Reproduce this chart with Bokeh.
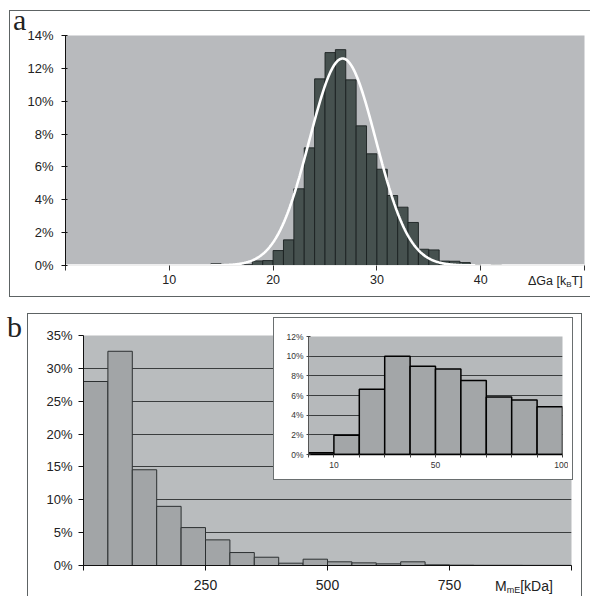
import numpy as np
from bokeh.plotting import figure
from bokeh.models import Range1d, FixedTicker, ColumnDataSource, Div
from bokeh.layouts import column
from bokeh.embed import file_html
from bokeh.resources import INLINE

# ---------------- Panel a : activation free energy histogram ----------------
dg_bin_left = [14, 15, 16, 17, 18, 19, 20, 21, 22, 23, 24, 25, 26, 27,
               28, 29, 30, 31, 32, 33, 34, 35, 36, 37, 38, 39, 40, 41]
dg_pct = [0.10, 0.0, 0.0, 0.05, 0.28, 0.30, 0.91, 1.56, 4.67, 7.16, 11.36, 12.96, 13.14, 11.30,
          8.50, 6.80, 5.86, 4.26, 3.55, 2.62, 0.99, 0.95, 0.27, 0.26, 0.18, 0.06, 0.0, 0.05]
dg_bin_width = 1
# Gaussian fit drawn over the histogram (parameters)
fit_mean = 26.7
fit_sd = 3.2
fit_peak = 12.6
dg_yticks = [0, 2, 4, 6, 8, 10, 12, 14]
dg_xticks = [0, 10, 20, 30, 40, 50]
dg_xtick_labels = ["", "10", "20", "30", "40", ""]

# ---------------- Panel b : mass histogram ----------------
m_bin_left = [0, 50, 100, 150, 200, 250, 300, 350, 400, 450,
              500, 550, 600, 650, 700, 750, 800, 850, 900, 950]
m_pct = [28.0, 32.6, 14.57, 9.0, 5.77, 3.9, 1.97, 1.26, 0.35, 0.96,
         0.56, 0.40, 0.25, 0.56, 0.10, 0.05, 0.03, 0.03, 0.02, 0.02]
m_bin_width = 50
m_yticks = [0, 5, 10, 15, 20, 25, 30, 35]
m_grid = [5, 10, 15, 20, 25, 30]
m_xticks = [0, 250, 500, 750, 1000]
m_xtick_labels = ["", "250", "500", "750", ""]

# ---------------- Inset : 0-100 kDa ----------------
s_bin_left = [0, 10, 20, 30, 40, 50, 60, 70, 80, 90]
s_pct = [0.17, 1.95, 6.64, 9.98, 8.97, 8.70, 7.52, 5.86, 5.53, 4.85]
s_bin_width = 10
s_yticks = [0, 2, 4, 6, 8, 10, 12]
s_grid = [2, 4, 6, 8, 10]
s_xticks = [0, 10, 20, 30, 40, 50, 60, 70, 80, 90, 100]
s_xtick_labels = ["", "10", "", "", "", "50", "", "", "", "", "100"]

SANS = "Liberation Sans"
SERIF = "Liberation Serif"
BOX_COLOR = "#5d6364"
INK = "#222222"

# ======================= Panel a =======================
pa = figure(width=580, height=285, x_range=Range1d(0, 50), y_range=Range1d(0, 14),
            output_backend="svg", toolbar_location=None,
            min_border_left=55, min_border_right=6, min_border_top=24, min_border_bottom=31,
            background_fill_color="#b8babd", border_fill_alpha=0, outline_line_color=None,
            margin=(11, 0, 0, 10))
pa.xgrid.visible = False
pa.ygrid.visible = False

src_a = ColumnDataSource(dict(left=dg_bin_left,
                              right=[v + dg_bin_width for v in dg_bin_left],
                              top=dg_pct))
pa.quad(left="left", right="right", top="top", bottom=0, source=src_a,
        fill_color="#46514f", line_color="#1b2121", line_width=0.9)

xs = np.linspace(0, 50, 801)
ys = fit_peak * np.exp(-0.5 * ((xs - fit_mean) / fit_sd) ** 2)
pa.line(xs, ys, line_color="white", line_width=2.6)

pa.yaxis.ticker = FixedTicker(ticks=dg_yticks)
pa.yaxis.major_label_overrides = {t: f"{t}%" for t in dg_yticks}
pa.xaxis.ticker = FixedTicker(ticks=dg_xticks)
pa.xaxis.major_label_overrides = dict(zip(dg_xticks, dg_xtick_labels))
for ax in (pa.xaxis[0], pa.yaxis[0]):
    ax.minor_tick_line_color = None
    ax.major_label_text_font = SANS
    ax.major_label_text_color = INK
pa.yaxis.major_label_text_font_size = "13px"
pa.xaxis.major_label_text_font_size = "12.5px"
pa.yaxis.axis_line_color = "#111111"
pa.yaxis.major_tick_line_color = "#111111"
pa.yaxis.major_tick_out = 4
pa.yaxis.major_tick_in = 2
pa.yaxis.major_label_standoff = 8
pa.xaxis.axis_line_color = "#eeeeee"
pa.xaxis.major_tick_line_color = "#333333"
pa.xaxis.major_tick_out = 5
pa.xaxis.major_tick_in = 0
pa.xaxis.major_label_standoff = 4

# ======================= Panel b =======================
pb = figure(width=549, height=282, x_range=Range1d(0, 1000), y_range=Range1d(0, 35),
            output_backend="svg", toolbar_location=None,
            min_border_left=55, min_border_right=6, min_border_top=21, min_border_bottom=31,
            background_fill_color="#b9bcbe", border_fill_alpha=0, outline_line_color=None,
            margin=(18, 0, 0, 28))
pb.xgrid.visible = False
pb.ygrid.ticker = FixedTicker(ticks=m_grid)
pb.ygrid.grid_line_color = "#3a3d3e"
pb.ygrid.grid_line_width = 1

src_b = ColumnDataSource(dict(left=m_bin_left,
                              right=[v + m_bin_width for v in m_bin_left],
                              top=m_pct))
pb.quad(left="left", right="right", top="top", bottom=0, source=src_b,
        fill_color="#a2a5a7", line_color="#2c3031", line_width=1)

pb.yaxis.ticker = FixedTicker(ticks=m_yticks)
pb.yaxis.major_label_overrides = {t: f"{t}%" for t in m_yticks}
pb.xaxis.ticker = FixedTicker(ticks=m_xticks)
pb.xaxis.major_label_overrides = dict(zip(m_xticks, m_xtick_labels))
for ax in (pb.xaxis[0], pb.yaxis[0]):
    ax.minor_tick_line_color = None
    ax.major_label_text_font = SANS
    ax.major_label_text_color = INK
    ax.axis_line_color = "#111111"
    ax.major_tick_line_color = "#111111"
pb.yaxis.major_label_text_font_size = "13px"
pb.xaxis.major_label_text_font_size = "14px"
pb.yaxis.major_tick_out = 5
pb.yaxis.major_tick_in = 0
pb.yaxis.major_label_standoff = 6
pb.xaxis.major_tick_out = 5
pb.xaxis.major_tick_in = 0
pb.xaxis.major_label_standoff = 9

# ======================= Inset =======================
pi = figure(width=315, height=161, x_range=Range1d(0, 100), y_range=Range1d(0, 12),
            output_backend="svg", toolbar_location=None,
            min_border_left=55, min_border_right=6, min_border_top=18, min_border_bottom=25,
            background_fill_color="#b6b9bb", border_fill_alpha=0, outline_line_color=None,
            margin=(-278, 0, 0, 253),
            styles={"position": "relative", "z-index": "2"})
pi.xgrid.visible = False
pi.ygrid.ticker = FixedTicker(ticks=s_grid)
pi.ygrid.grid_line_color = "#3a3d3e"
pi.ygrid.grid_line_width = 1

src_i = ColumnDataSource(dict(left=s_bin_left,
                              right=[v + s_bin_width for v in s_bin_left],
                              top=s_pct))
pi.quad(left="left", right="right", top="top", bottom=0, source=src_i,
        fill_color="#a3a6a8", line_color="#000000", line_width=1.5)

pi.yaxis.ticker = FixedTicker(ticks=s_yticks)
pi.yaxis.major_label_overrides = {t: f"{t}%" for t in s_yticks}
pi.xaxis.ticker = FixedTicker(ticks=s_xticks)
pi.xaxis.major_label_overrides = dict(zip(s_xticks, s_xtick_labels))
for ax in (pi.xaxis[0], pi.yaxis[0]):
    ax.minor_tick_line_color = None
    ax.major_label_text_font = SANS
    ax.major_label_text_color = "#333333"
    ax.major_label_text_font_size = "8.5px"
    ax.major_tick_line_color = "#444444"
pi.xaxis.axis_line_color = "#000000"
pi.xaxis.axis_line_width = 1.5
pi.yaxis.axis_line_color = "#555555"
pi.yaxis.major_tick_out = 2
pi.yaxis.major_tick_in = 2
pi.yaxis.major_label_standoff = 3
pi.xaxis.major_tick_out = 3
pi.xaxis.major_tick_in = 0
pi.xaxis.major_label_standoff = 4


# ======================= Frames and text overlays =======================
def rule(left, top, w, h, color=BOX_COLOR, z=3):
    return Div(text="", width=w, height=h, margin=0,
               styles={"position": "absolute", "left": f"{left}px", "top": f"{top}px",
                       "width": f"{w}px", "height": f"{h}px",
                       "background": color, "z-index": str(z)})


def overlay(html, left, top, w, h, font, size):
    return Div(text=html, width=w, height=h, margin=0,
               styles={"position": "absolute", "left": f"{left}px", "top": f"{top}px",
                       "font-family": font, "font-size": size, "line-height": "1",
                       "color": INK, "z-index": "3", "white-space": "nowrap"})


# inset white card with its own border
box_i = Div(text="", width=300, height=163, margin=0,
            styles={"position": "absolute", "left": "273px", "top": "317px",
                    "box-sizing": "border-box", "border": "1px solid #6a6f70",
                    "background": "white", "z-index": "1"})

frame_lines = [
    # panel a box (right side runs off the page)
    rule(9, 10, 581, 1), rule(9, 10, 1, 287), rule(9, 296, 581, 1),
    # panel b box (bottom runs off the page)
    rule(27, 313, 555, 1), rule(27, 313, 1, 283), rule(581, 313, 1, 283),
]

sub_style = "font-size:8px;vertical-align:-2px;line-height:0"
txt_a = overlay("a", 13, 5, 20, 32, SERIF, "30px")
txt_b = overlay("b", 7, 312, 20, 32, SERIF, "30px")
txt_dga = overlay(f"\u0394Ga [k<sub style='{sub_style}'>B</sub>T]", 528, 275, 60, 16, SANS, "12.5px")
txt_mme = overlay("M<sub style='font-size:9px;vertical-align:-2px;line-height:0'>mE</sub>[kDa]",
                  495, 579, 80, 16, SANS, "14px")

layout = column(pa, pb, pi, box_i, *frame_lines, txt_a, txt_b, txt_dga, txt_mme)

open("out.html", "w").write(file_html(layout, INLINE))
